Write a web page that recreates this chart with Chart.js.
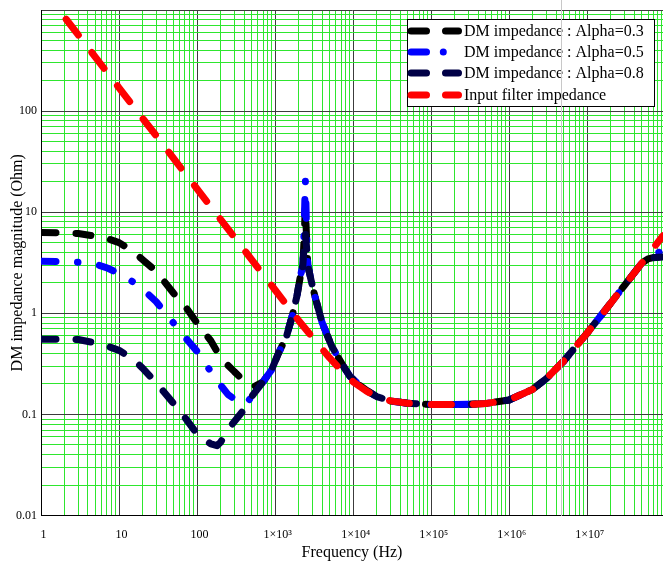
<!DOCTYPE html>
<html><head><meta charset="utf-8">
<script src="https://cdn.jsdelivr.net/npm/chart.js@4"></script>
<style>html,body{margin:0;padding:0;background:#fff}canvas{display:block}</style>
</head><body>
<canvas id="c" width="663" height="561"></canvas>
<script>
// ---- data ----
const freqDM = [1, 2, 3, 5, 7, 10, 15, 20, 30, 50, 70, 100, 150, 180, 200, 250, 300, 375, 420, 500, 550,
  700, 900, 1100, 1400, 1650, 1900, 2100, 2270, 2350, 2440, 2530, 2620, 2900, 3240, 3600, 4000, 4600, 5300,
  6300, 7500, 9000, 12000, 15000, 20000, 30000, 50000, 1e5, 1.6e5, 2e5, 3e5, 5e5, 1e6, 2e6, 3e6, 5e6, 1e7,
  2e7, 3e7, 5e7, 6e7, 7e7, 9.34e7];
const zAlpha03 = [6.3, 6.25, 6.15, 5.8, 5.5, 5.0, 4.1, 3.4, 2.6, 1.58, 1.18, 0.8, 0.535, 0.42, 0.365, 0.305, 0.265, 0.225, 0.21, 0.19, 0.19,
  0.21, 0.275, 0.40, 0.59, 0.93, 1.47, 2.3, 3.0, 5.5, 11.5, 5.5, 3.0, 2.1, 1.47, 1.09, 0.81, 0.62, 0.475,
  0.377, 0.30, 0.24, 0.195, 0.172, 0.15, 0.136, 0.129, 0.1255, 0.125, 0.125, 0.1257, 0.128, 0.139, 0.177, 0.226, 0.338, 0.64,
  1.263, 1.89, 3.14, 3.45, 3.55, 3.6];
const zAlpha05 = [3.27, 3.25, 3.2, 3.05, 2.82, 2.47, 2.05, 1.74, 1.3, 0.8, 0.58, 0.42, 0.265, 0.216, 0.195, 0.157, 0.142, 0.131, 0.126, 0.15, 0.165,
  0.21, 0.275, 0.40, 0.59, 0.93, 1.47, 2.3, 3.0, 6.5, 21, 6.5, 3.0, 2.1, 1.47, 1.09, 0.81, 0.62, 0.475,
  0.377, 0.30, 0.24, 0.195, 0.172, 0.15, 0.136, 0.129, 0.1255, 0.125, 0.125, 0.1257, 0.128, 0.139, 0.177, 0.226, 0.338, 0.64,
  1.263, 1.89, 3.14, 3.6, 3.9, 4.1];
const zAlpha08 = [0.553, 0.556, 0.55, 0.51, 0.475, 0.43, 0.355, 0.287, 0.205, 0.128, 0.093, 0.064, 0.051, 0.049, 0.053, 0.071, 0.085, 0.105, 0.118, 0.15, 0.165,
  0.21, 0.275, 0.40, 0.59, 0.93, 1.47, 2.3, 3.0, 4.5, 6.2, 4.5, 3.0, 2.1, 1.47, 1.09, 0.81, 0.62, 0.475,
  0.377, 0.30, 0.24, 0.195, 0.172, 0.15, 0.136, 0.129, 0.1255, 0.125, 0.125, 0.1257, 0.128, 0.139, 0.177, 0.226, 0.338, 0.64,
  1.263, 1.89, 3.14, 3.45, 3.55, 3.6];
const freqFilter = [2.1, 3, 5, 7, 10, 20, 30, 50, 70, 100, 200, 300, 500, 700, 1000, 2000, 3000, 5000, 7000,
  10000, 15000, 20000, 30000, 50000, 1e5, 1.6e5, 2e5, 3e5, 5e5, 1e6, 2e6, 3e6, 5e6, 1e7, 2e7, 3e7, 5e7, 7e7, 9.34e7];
const zFilter = [810, 567, 340, 243, 170, 85, 57, 34, 24.3, 17, 8.5, 5.67, 3.4, 2.43, 1.7, 0.85, 0.58, 0.362, 0.273,
  0.21, 0.169, 0.15, 0.136, 0.129, 0.1255, 0.125, 0.125, 0.1257, 0.128, 0.139, 0.177, 0.226, 0.338, 0.64, 1.263, 1.89, 3.14, 4.4, 5.85];
const seriesNames = ['DM impedance : Alpha=0.3', 'DM impedance : Alpha=0.5', 'DM impedance : Alpha=0.8', 'Input filter impedance'];
const xTickLabels = ['1', '10', '100', '1×10³', '1×10⁴', '1×10⁵', '1×10⁶', '1×10⁷'];
const yTickLabels = ['0.01', '0.1', '1', '10', '100'];
const xTitle = 'Frequency (Hz)';
const yTitle = 'DM impedance magnitude (Ohm)';
const markerFreq = 4.6e6;

// ---- helpers ----
const pts = (xs, ys) => xs.map((x, i) => ({ x: x, y: ys[i] }));
const isDecade = v => { const e = Math.log10(v); return Math.abs(e - Math.round(e)) < 1e-9; };
function logTicks(min, max) {
  const t = [];
  for (let e = Math.floor(Math.log10(min)); e <= Math.ceil(Math.log10(max)); e++) {
    for (let m = 1; m < 10; m++) {
      const v = parseFloat((m * Math.pow(10, e)).toPrecision(6));
      if (v >= min * 0.9999 && v <= max * 1.0001) t.push({ value: v });
    }
  }
  return t;
}
const decadeLabel = (labels, minExp) => (v) => {
  if (!isDecade(v)) return '';
  const l = labels[Math.round(Math.log10(v)) - minExp];
  return l === undefined ? '' : l;
};
const serif = 'Liberation Serif, Times New Roman, serif';

const legendPlugin = {
  id: 'boxLegend',
  afterDatasetsDraw(chart) {
    const ctx = chart.ctx;
    ctx.save();
    ctx.fillStyle = '#fff';
    ctx.fillRect(407.5, 19.5, 247, 87);
    ctx.strokeStyle = '#000';
    ctx.lineWidth = 1;
    ctx.strokeRect(407.5, 19.5, 247, 87);
    const rows = [31, 52, 73, 95];
    chart.data.datasets.forEach((ds, i) => {
      const y = rows[i];
      ctx.strokeStyle = ds.borderColor;
      ctx.fillStyle = ds.borderColor;
      ctx.lineWidth = 7;
      ctx.lineCap = 'round';
      ctx.setLineDash([]);
      ctx.beginPath(); ctx.moveTo(411, y); ctx.lineTo(426.5, y); ctx.stroke();
      if (ds.legendDot) {
        ctx.beginPath(); ctx.arc(443.3, y, 3.5, 0, 2 * Math.PI); ctx.fill();
      } else {
        ctx.beginPath(); ctx.moveTo(445.5, y); ctx.lineTo(458.5, y); ctx.stroke();
      }
      ctx.fillStyle = '#000';
      ctx.font = '16px ' + serif;
      ctx.textBaseline = 'alphabetic';
      ctx.fillText(ds.label, 464, y + 5);
    });
    const mx = Math.round(chart.scales.x.getPixelForValue(markerFreq)) + 0.5;
    ctx.strokeStyle = '#c8c8c8';
    ctx.lineWidth = 1;
    ctx.beginPath(); ctx.moveTo(mx, 0); ctx.lineTo(mx, chart.chartArea.bottom); ctx.stroke();
    ctx.restore();
  }
};

const lineBase = { borderWidth: 7, borderCapStyle: 'round', borderJoinStyle: 'round', pointRadius: 0, tension: 0, fill: false };

new Chart(document.getElementById('c'), {
  type: 'line',
  data: {
    datasets: [
      Object.assign({ label: seriesNames[0], data: pts(freqDM, zAlpha03), borderColor: '#000000', borderDash: [15, 20], order: 4 }, lineBase),
      Object.assign({ label: seriesNames[1], data: pts(freqDM, zAlpha05), borderColor: '#0000ff', borderDash: [15, 21.5, 0.5, 21.5], order: 3, legendDot: true }, lineBase),
      Object.assign({ label: seriesNames[2], data: pts(freqDM, zAlpha08), borderColor: '#000046', borderDash: [15, 20], order: 2 }, lineBase),
      Object.assign({ label: seriesNames[3], data: pts(freqFilter, zFilter), borderColor: '#ff0000', borderDash: [20, 22], order: 1 }, lineBase)
    ]
  },
  options: {
    responsive: false,
    animation: false,
    devicePixelRatio: 1,
    layout: { padding: { top: 10, right: 0, bottom: 0, left: 0 }, autoPadding: false },
    plugins: { legend: { display: false }, tooltip: { enabled: false } },
    scales: {
      x: {
        type: 'logarithmic', min: 1, max: 9.34e7, offset: false,
        afterBuildTicks: s => { s.ticks = logTicks(s.min, s.max); },
        afterFit: s => { s.height = 45.5; s.paddingLeft = 0; s.paddingRight = 0; },
        ticks: { autoSkip: false, maxRotation: 0, minRotation: 0, padding: 12, labelOffset: 2.5, color: '#000',
          font: { family: serif, size: 12 }, callback: decadeLabel(xTickLabels, 0) },
        grid: { color: c => isDecade(c.tick.value) ? '#3c3c3c' : '#2ee62e', lineWidth: 1, drawTicks: false, tickLength: 0 },
        border: { display: true, color: '#000', width: 1 },
        title: { display: true, text: xTitle, color: '#000', font: { family: serif, size: 16, lineHeight: 1 }, padding: { top: 0, bottom: 0 } }
      },
      y: {
        type: 'logarithmic', min: 0.01, max: 1000,
        afterBuildTicks: s => { s.ticks = logTicks(s.min, s.max); },
        afterFit: s => { s.width = 41; s.paddingTop = 0; s.paddingBottom = 0; },
        ticks: { autoSkip: false, padding: 4, color: '#000', font: { family: serif, size: 12 }, callback: decadeLabel(yTickLabels, -2) },
        grid: { color: c => isDecade(c.tick.value) ? '#3c3c3c' : '#2ee62e', lineWidth: 1, drawTicks: false, tickLength: 0 },
        border: { display: true, color: '#000', width: 1 },
        title: { display: true, text: yTitle, color: '#000', font: { family: serif, size: 16, lineHeight: 1 }, padding: { top: 10, bottom: 0 } }
      }
    }
  },
  plugins: [legendPlugin]
});
</script>
</body></html>
